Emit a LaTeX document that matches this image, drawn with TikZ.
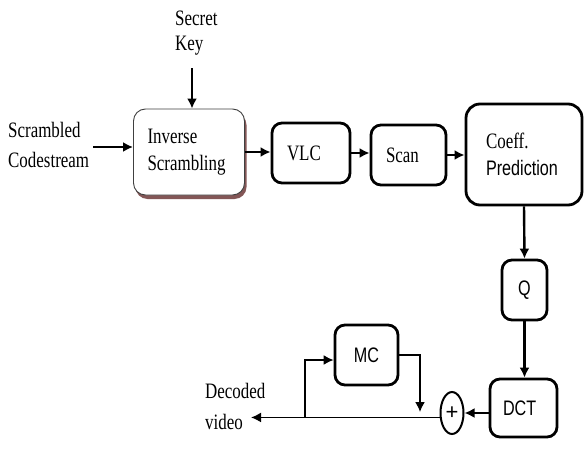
\documentclass[tikz,border=0pt]{standalone}
\usepackage{fontspec}
\setmainfont{Liberation Serif}
\newfontfamily\serifn[FakeStretch=0.77]{Liberation Serif}
\newfontfamily\sansn[FakeStretch=0.77]{Liberation Sans}
\newfontfamily\sansw{Liberation Sans}
\usetikzlibrary{arrows.meta,shapes.geometric,shadows}
\definecolor{shadowred}{HTML}{5A1E1E}

\begin{document}
\begin{tikzpicture}[x=1pt,y=-1pt,
  lbl/.style={font=\serifn\fontsize{22}{30}\selectfont, inner sep=0pt, align=left, anchor=west},
  thinbox/.style={draw=black!75, line width=0.9pt, rounded corners=12pt, fill=white,
    drop shadow={shadow xshift=2pt, shadow yshift=-4pt, fill=shadowred, opacity=0.75}},
  blockbox/.style={draw, line width=2.8pt, rounded corners=10pt, fill=white},
  sertxt/.style={font=\serifn\fontsize{22}{27}\selectfont, align=left},
  santxt/.style={font=\sansn\fontsize{21}{24}\selectfont},
  arr/.style={line width=2.4pt, -{Latex[length=10pt,width=10pt]}},
  thinarr/.style={line width=1.6pt, -{Latex[length=10pt,width=10pt]}},
]
\useasboundingbox[fill=white] (0,0) rectangle (585,449);

% input labels
\node[lbl] (src) at (8,145) {Scrambled\\Codestream};
\node[lbl, font=\serifn\fontsize{22}{25}\selectfont] (key) at (175,33) {Secret\\Key};
\node[lbl, font=\serifn\fontsize{22}{31}\selectfont] (out) at (205,406) {Decoded\\video};

% processing blocks
\node[thinbox, sertxt, minimum width=111pt, minimum height=86pt,
      text width=83pt, inner xsep=14pt] (inv) at (189,152) {Inverse\\Scrambling};
\node[blockbox, sertxt, minimum width=78pt, minimum height=60pt,
      text width=48pt, inner xsep=15pt] (vlc) at (311,153) {VLC};
\node[blockbox, sertxt, minimum width=75pt, minimum height=60pt,
      text width=45pt, inner xsep=15pt] (scan) at (408.5,155) {Scan};
\node[blockbox, rounded corners=14pt, minimum width=116pt, minimum height=101pt,
      text width=76pt, inner xsep=20pt, align=left] (coeff) at (524,154.5)
      {{\serifn\fontsize{22}{24}\selectfont Coeff.}\\[10pt]{\sansn\fontsize{21}{24}\selectfont Prediction}};
\node[blockbox, santxt, minimum width=45pt, minimum height=60pt] (q) at (524.5,290) {Q};
\node[blockbox, santxt, minimum width=63pt, minimum height=60pt] (mc) at (366.5,355) {MC};
\node[blockbox, santxt, minimum width=67pt, minimum height=58pt,
      text width=41pt, inner xsep=13pt, align=left] (dct) at (523.5,408) {DCT};
\node[ellipse, draw, line width=2pt, minimum width=23pt, minimum height=42pt,
      inner sep=0pt, font=\sansw\fontsize{22}{22}\selectfont] (plus) at (452,413) {+};

% free ends of the output and motion-compensation paths
\coordinate (vtip) at (251,0);
\coordinate (tap) at (305,0);
\coordinate (drop) at (420,412);

% main chain
\draw[arr] ([xshift=4pt,yshift=-2pt]src.east) -- ([yshift=-2pt]src.east -| inv.west);
\draw[arr] ([xshift=3pt,yshift=-13pt]inv.north |- key.south) -- ([xshift=3pt]inv.north);
\draw[arr] (inv.east) -- (inv.east -| vlc.west);
\draw[arr] (vlc.east) -- (vlc.east -| scan.west);
\draw[arr] (scan.east) -- (scan.east -| coeff.west);
\draw[arr] (coeff.south) -- (q.north);
\draw[arr] (q.south) -- (q.south |- dct.north);
\draw[arr] (plus.east -| dct.west) -- (plus.east);

% reconstruction output and feedback loop
\draw[thinarr] (plus.200) -- (plus.200 -| vtip);
\draw[thinarr] (tap |- plus.200) |- ([yshift=-5pt]mc.west);
\draw[thinarr] (mc.east) -| (drop);
\end{tikzpicture}
\end{document}
